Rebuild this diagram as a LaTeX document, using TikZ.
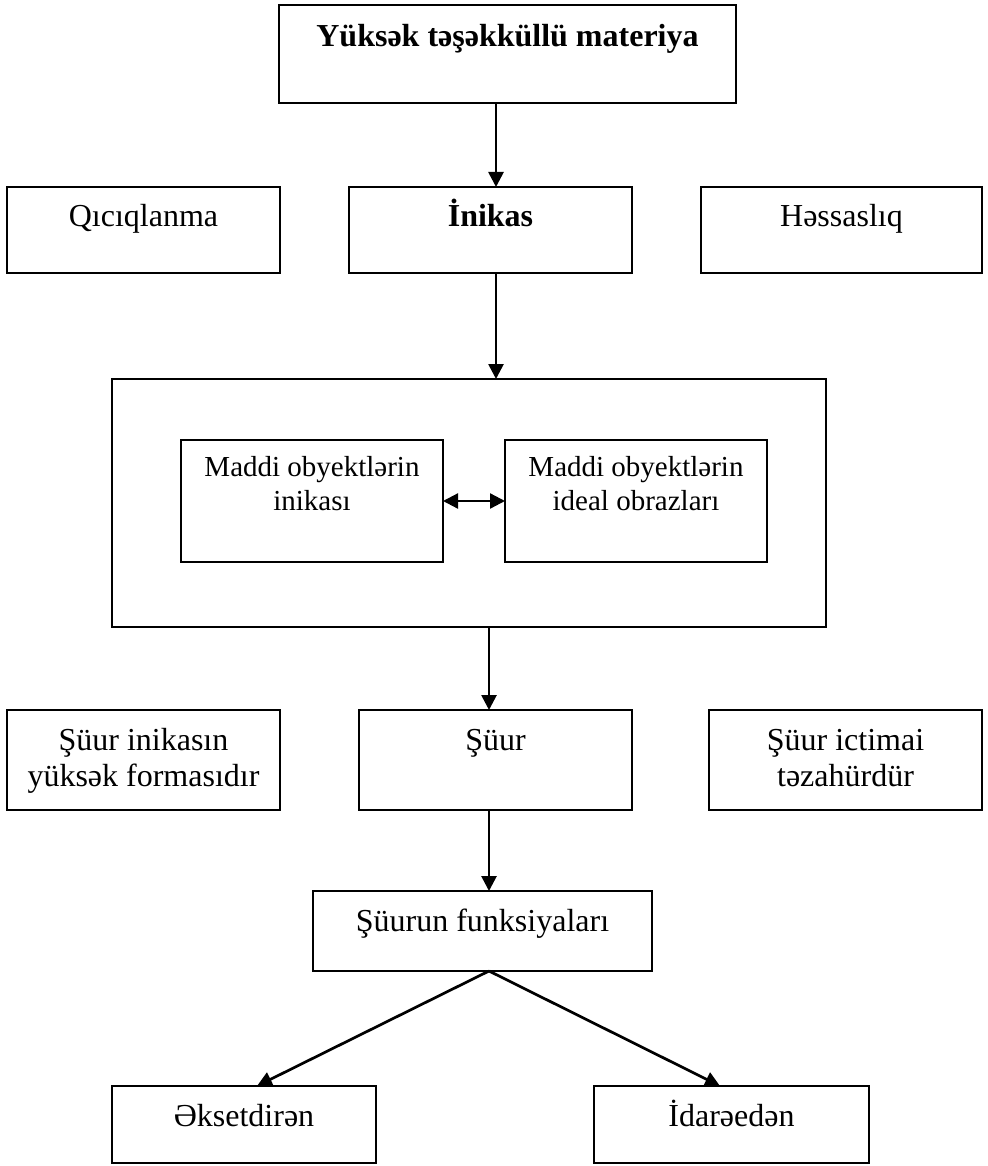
\documentclass[tikz,border=0pt]{standalone}
\usepackage{fontspec}
\setmainfont{Liberation Serif}
\usetikzlibrary{arrows.meta}
\newcommand\mtxt[1]{\begin{tabular}[t]{@{}c@{}}#1\end{tabular}}
\begin{document}
\begin{tikzpicture}[x=1pt,y=-1pt,
  box/.style={draw=black,line width=1.5pt,minimum width=#1,inner sep=0pt,outer sep=0pt},
  txt/.style={anchor=base,inner sep=0pt,font=\fontsize{32}{36}\selectfont},
  txtin/.style={anchor=base,inner sep=0pt,font=\fontsize{29}{34}\selectfont},
  conn/.style={line width=2.7pt,-{Triangle[length=15pt,width=15pt]}},
  dconn/.style={line width=2.3pt,{Triangle[length=15pt,width=15pt]}-{Triangle[length=15pt,width=15pt]}}]
\useasboundingbox (0,0) rectangle (987,1166);
% boxes
\node[box=457pt,minimum height=98pt] (top) at (507.5,54) {};
\node[box=273pt,minimum height=86pt] (qic) at (143.5,230) {};
\node[box=283pt,minimum height=86pt] (inik) at (490.5,230) {};
\node[box=281pt,minimum height=86pt] (hes) at (841.5,230) {};
\node[box=714pt,minimum height=248pt] (big) at (469,503) {};
\node[box=262pt,minimum height=122pt] (inL) at (312,501) {};
\node[box=262pt,minimum height=122pt] (inR) at (636,501) {};
\node[box=273pt,minimum height=100pt] (sL) at (143.5,760) {};
\node[box=273pt,minimum height=100pt] (su) at (495.5,760) {};
\node[box=273pt,minimum height=100pt] (sR) at (845.5,760) {};
\node[box=339pt,minimum height=80pt] (fn) at (482.5,931) {};
\node[box=264pt,minimum height=77pt] (ek) at (244,1124.5) {};
\node[box=275pt,minimum height=77pt] (id) at (731.5,1124.5) {};
% texts
\node[txt] (ttop) at (507.5,47) {\bfseries Yüksək təşəkküllü materiya};
\node[txt] (tqic) at (143.5,227) {Qıcıqlanma};
\node[txt] (tinik) at (490.5,227) {\bfseries İnikas};
\node[txt] (thes) at (841.5,227) {Həssaslıq};
\node[txtin] (tinL) at (312,476) {\mtxt{Maddi obyektlərin\\inikası}};
\node[txtin] (tinR) at (636,476) {\mtxt{Maddi obyektlərin\\ideal obrazları}};
\node[txt] (tsL) at (143.5,750) {\mtxt{Şüur inikasın\\yüksək formasıdır}};
\node[txt] (tsu) at (495.5,750) {Şüur};
\node[txt] (tsR) at (845.5,750) {\mtxt{Şüur ictimai\\təzahürdür}};
\node[txt] (tfn) at (482.5,931) {Şüurun funksiyaları};
\node[txt] (tek) at (244,1126) {Əksetdirən};
\node[txt] (tid) at (731.5,1126) {İdarəedən};
% guide coordinates
\coordinate (ax1) at (496,0);
\coordinate (ax2) at (489,0);
\coordinate (ae) at (257,0);
\coordinate (ai) at (720,0);
% connectors
\draw[conn] (top.south -| ax1) -- (inik.north -| ax1);
\draw[conn] (inik.south -| ax1) -- (big.north -| ax1);
\draw[dconn] (inL.east) -- (inR.west);
\draw[conn] (big.south -| ax2) -- (su.north -| ax2);
\draw[conn] (su.south -| ax2) -- (fn.north -| ax2);
\draw[conn] (fn.south -| ax2) -- (ek.north -| ae);
\draw[conn] (fn.south -| ax2) -- (id.north -| ai);
\end{tikzpicture}
\end{document}
